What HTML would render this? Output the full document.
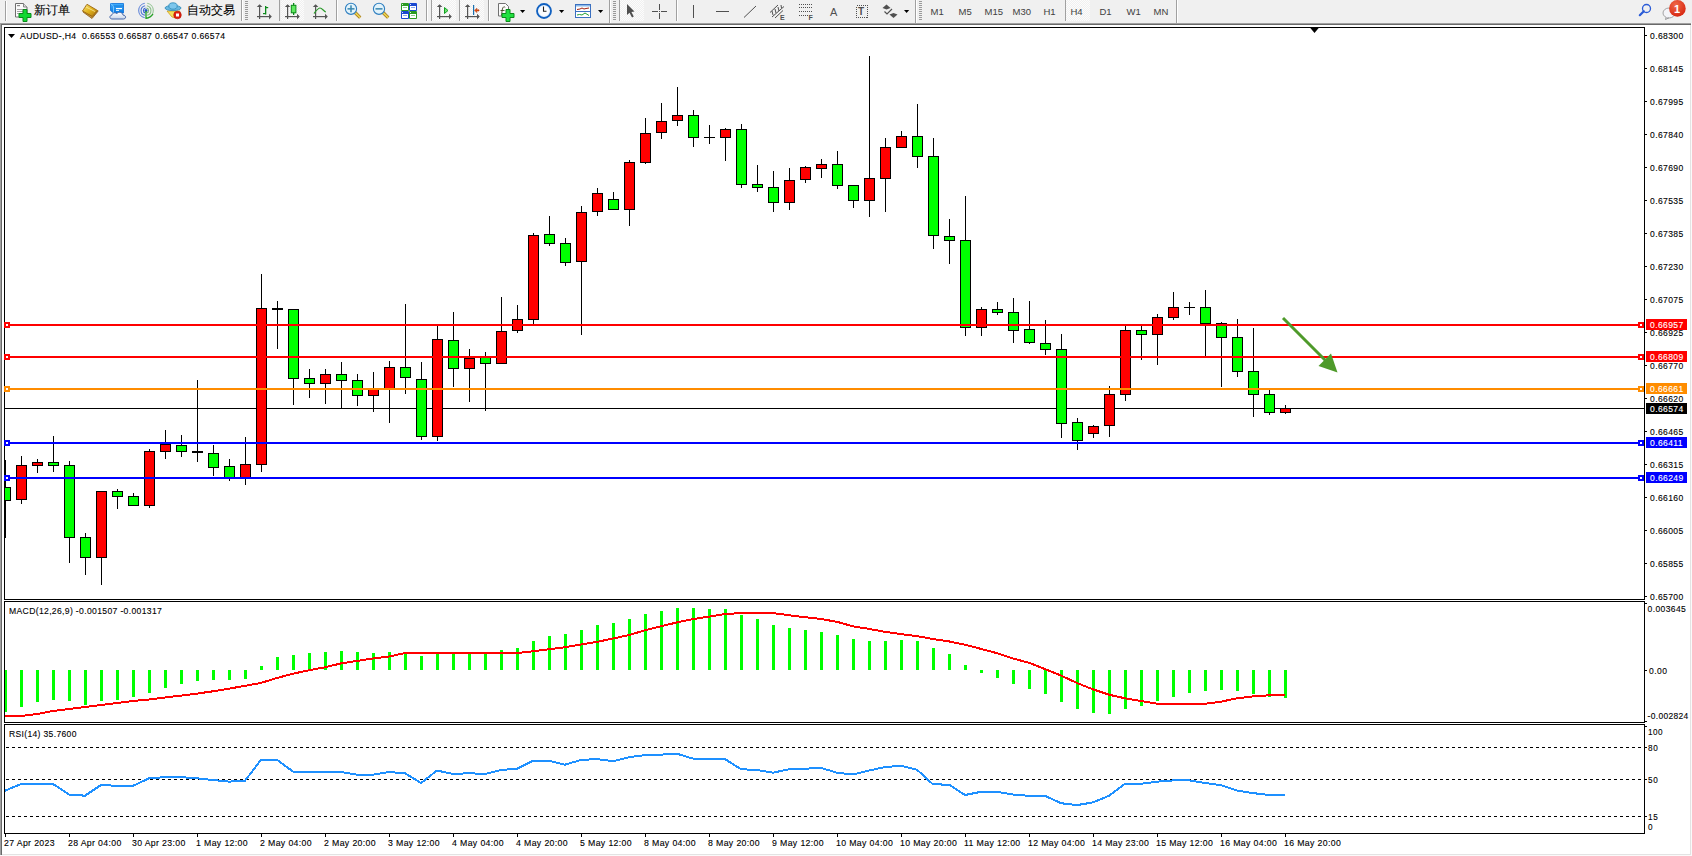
<!DOCTYPE html>
<html><head><meta charset="utf-8"><title>MT4</title>
<style>html,body{margin:0;padding:0;width:1692px;height:856px;overflow:hidden;background:#f0f0f0}
svg{display:block} text{font-family:"Liberation Sans",sans-serif}</style></head>
<body><svg width="1692" height="856" viewBox="0 0 1692 856" shape-rendering="crispEdges" text-rendering="optimizeLegibility">
<rect x="0" y="0" width="1692" height="856" fill="#f0f0f0"/>
<rect x="2" y="25" width="1688" height="829" fill="#ffffff"/>
<rect x="0" y="23" width="1691" height="1" fill="#a0a0a0"/>
<rect x="1" y="24" width="1690" height="1" fill="#696969"/>
<rect x="0" y="23" width="1" height="833" fill="#a0a0a0"/>
<rect x="1" y="24" width="1" height="831" fill="#696969"/>
<rect x="1690" y="25" width="1" height="830" fill="#e3e3e3"/>
<rect x="2" y="854" width="1689" height="1" fill="#e3e3e3"/>
<rect x="1691" y="23" width="1" height="833" fill="#fafafa"/>
<rect x="0" y="855" width="1692" height="1" fill="#fafafa"/>
<rect x="4" y="27" width="1641" height="1" fill="#000"/>
<rect x="4" y="599" width="1641" height="1" fill="#000"/>
<rect x="4" y="27" width="1" height="573" fill="#000"/>
<rect x="1644" y="27" width="1" height="573" fill="#000"/>
<rect x="4" y="601" width="1641" height="1" fill="#000"/>
<rect x="4" y="722" width="1641" height="1" fill="#000"/>
<rect x="4" y="601" width="1" height="122" fill="#000"/>
<rect x="1644" y="601" width="1" height="122" fill="#000"/>
<rect x="4" y="724" width="1641" height="1" fill="#000"/>
<rect x="4" y="833" width="1641" height="1" fill="#000"/>
<rect x="4" y="724" width="1" height="110" fill="#000"/>
<rect x="1644" y="724" width="1" height="110" fill="#000"/>
<defs><clipPath id="cm"><rect x="5" y="28" width="1639" height="571"/></clipPath><clipPath id="cmacd"><rect x="5" y="602" width="1639" height="120"/></clipPath><clipPath id="crsi"><rect x="5" y="725" width="1639" height="108"/></clipPath></defs>
<g clip-path="url(#cm)">
<rect x="5" y="408" width="1639" height="1" fill="#000000"/>
<rect x="5" y="460" width="1" height="78" fill="#000"/>
<rect x="0" y="487" width="11" height="14" fill="#000"/>
<rect x="1" y="488" width="9" height="12" fill="#00ff00"/>
<rect x="21" y="456" width="1" height="48" fill="#000"/>
<rect x="16" y="465" width="11" height="35" fill="#000"/>
<rect x="17" y="466" width="9" height="33" fill="#ff0000"/>
<rect x="37" y="459" width="1" height="14" fill="#000"/>
<rect x="32" y="462" width="11" height="4" fill="#000"/>
<rect x="33" y="463" width="9" height="2" fill="#ff0000"/>
<rect x="53" y="436" width="1" height="36" fill="#000"/>
<rect x="48" y="462" width="11" height="4" fill="#000"/>
<rect x="49" y="463" width="9" height="2" fill="#00ff00"/>
<rect x="69" y="461" width="1" height="102" fill="#000"/>
<rect x="64" y="465" width="11" height="73" fill="#000"/>
<rect x="65" y="466" width="9" height="71" fill="#00ff00"/>
<rect x="85" y="533" width="1" height="42" fill="#000"/>
<rect x="80" y="537" width="11" height="21" fill="#000"/>
<rect x="81" y="538" width="9" height="19" fill="#00ff00"/>
<rect x="101" y="491" width="1" height="94" fill="#000"/>
<rect x="96" y="491" width="11" height="67" fill="#000"/>
<rect x="97" y="492" width="9" height="65" fill="#ff0000"/>
<rect x="117" y="489" width="1" height="20" fill="#000"/>
<rect x="112" y="491" width="11" height="6" fill="#000"/>
<rect x="113" y="492" width="9" height="4" fill="#00ff00"/>
<rect x="133" y="493" width="1" height="13" fill="#000"/>
<rect x="128" y="496" width="11" height="10" fill="#000"/>
<rect x="129" y="497" width="9" height="8" fill="#00ff00"/>
<rect x="149" y="449" width="1" height="59" fill="#000"/>
<rect x="144" y="451" width="11" height="55" fill="#000"/>
<rect x="145" y="452" width="9" height="53" fill="#ff0000"/>
<rect x="165" y="430" width="1" height="29" fill="#000"/>
<rect x="160" y="444" width="11" height="8" fill="#000"/>
<rect x="161" y="445" width="9" height="6" fill="#ff0000"/>
<rect x="181" y="435" width="1" height="22" fill="#000"/>
<rect x="176" y="445" width="11" height="7" fill="#000"/>
<rect x="177" y="446" width="9" height="5" fill="#00ff00"/>
<rect x="197" y="380" width="1" height="82" fill="#000"/>
<rect x="192" y="451" width="11" height="2" fill="#000"/>
<rect x="213" y="445" width="1" height="31" fill="#000"/>
<rect x="208" y="453" width="11" height="15" fill="#000"/>
<rect x="209" y="454" width="9" height="13" fill="#00ff00"/>
<rect x="229" y="459" width="1" height="22" fill="#000"/>
<rect x="224" y="466" width="11" height="12" fill="#000"/>
<rect x="225" y="467" width="9" height="10" fill="#00ff00"/>
<rect x="245" y="437" width="1" height="48" fill="#000"/>
<rect x="240" y="464" width="11" height="14" fill="#000"/>
<rect x="241" y="465" width="9" height="12" fill="#ff0000"/>
<rect x="261" y="274" width="1" height="198" fill="#000"/>
<rect x="256" y="308" width="11" height="157" fill="#000"/>
<rect x="257" y="309" width="9" height="155" fill="#ff0000"/>
<rect x="277" y="301" width="1" height="48" fill="#000"/>
<rect x="272" y="308" width="11" height="2" fill="#000"/>
<rect x="293" y="309" width="1" height="96" fill="#000"/>
<rect x="288" y="309" width="11" height="70" fill="#000"/>
<rect x="289" y="310" width="9" height="68" fill="#00ff00"/>
<rect x="309" y="369" width="1" height="29" fill="#000"/>
<rect x="304" y="378" width="11" height="6" fill="#000"/>
<rect x="305" y="379" width="9" height="4" fill="#00ff00"/>
<rect x="325" y="369" width="1" height="35" fill="#000"/>
<rect x="320" y="374" width="11" height="10" fill="#000"/>
<rect x="321" y="375" width="9" height="8" fill="#ff0000"/>
<rect x="341" y="362" width="1" height="47" fill="#000"/>
<rect x="336" y="374" width="11" height="7" fill="#000"/>
<rect x="337" y="375" width="9" height="5" fill="#00ff00"/>
<rect x="357" y="374" width="1" height="32" fill="#000"/>
<rect x="352" y="380" width="11" height="16" fill="#000"/>
<rect x="353" y="381" width="9" height="14" fill="#00ff00"/>
<rect x="373" y="372" width="1" height="40" fill="#000"/>
<rect x="368" y="389" width="11" height="7" fill="#000"/>
<rect x="369" y="390" width="9" height="5" fill="#ff0000"/>
<rect x="389" y="361" width="1" height="62" fill="#000"/>
<rect x="384" y="367" width="11" height="22" fill="#000"/>
<rect x="385" y="368" width="9" height="20" fill="#ff0000"/>
<rect x="405" y="304" width="1" height="90" fill="#000"/>
<rect x="400" y="367" width="11" height="11" fill="#000"/>
<rect x="401" y="368" width="9" height="9" fill="#00ff00"/>
<rect x="421" y="362" width="1" height="78" fill="#000"/>
<rect x="416" y="379" width="11" height="58" fill="#000"/>
<rect x="417" y="380" width="9" height="56" fill="#00ff00"/>
<rect x="437" y="326" width="1" height="115" fill="#000"/>
<rect x="432" y="339" width="11" height="98" fill="#000"/>
<rect x="433" y="340" width="9" height="96" fill="#ff0000"/>
<rect x="453" y="312" width="1" height="75" fill="#000"/>
<rect x="448" y="340" width="11" height="29" fill="#000"/>
<rect x="449" y="341" width="9" height="27" fill="#00ff00"/>
<rect x="469" y="349" width="1" height="53" fill="#000"/>
<rect x="464" y="358" width="11" height="11" fill="#000"/>
<rect x="465" y="359" width="9" height="9" fill="#ff0000"/>
<rect x="485" y="352" width="1" height="59" fill="#000"/>
<rect x="480" y="357" width="11" height="7" fill="#000"/>
<rect x="481" y="358" width="9" height="5" fill="#00ff00"/>
<rect x="501" y="297" width="1" height="67" fill="#000"/>
<rect x="496" y="331" width="11" height="33" fill="#000"/>
<rect x="497" y="332" width="9" height="31" fill="#ff0000"/>
<rect x="517" y="305" width="1" height="28" fill="#000"/>
<rect x="512" y="319" width="11" height="12" fill="#000"/>
<rect x="513" y="320" width="9" height="10" fill="#ff0000"/>
<rect x="533" y="233" width="1" height="91" fill="#000"/>
<rect x="528" y="235" width="11" height="85" fill="#000"/>
<rect x="529" y="236" width="9" height="83" fill="#ff0000"/>
<rect x="549" y="216" width="1" height="30" fill="#000"/>
<rect x="544" y="234" width="11" height="10" fill="#000"/>
<rect x="545" y="235" width="9" height="8" fill="#00ff00"/>
<rect x="565" y="238" width="1" height="28" fill="#000"/>
<rect x="560" y="243" width="11" height="20" fill="#000"/>
<rect x="561" y="244" width="9" height="18" fill="#00ff00"/>
<rect x="581" y="206" width="1" height="129" fill="#000"/>
<rect x="576" y="212" width="11" height="50" fill="#000"/>
<rect x="577" y="213" width="9" height="48" fill="#ff0000"/>
<rect x="597" y="188" width="1" height="28" fill="#000"/>
<rect x="592" y="193" width="11" height="19" fill="#000"/>
<rect x="593" y="194" width="9" height="17" fill="#ff0000"/>
<rect x="613" y="192" width="1" height="17" fill="#000"/>
<rect x="608" y="199" width="11" height="11" fill="#000"/>
<rect x="609" y="200" width="9" height="9" fill="#00ff00"/>
<rect x="629" y="160" width="1" height="66" fill="#000"/>
<rect x="624" y="162" width="11" height="48" fill="#000"/>
<rect x="625" y="163" width="9" height="46" fill="#ff0000"/>
<rect x="645" y="118" width="1" height="46" fill="#000"/>
<rect x="640" y="133" width="11" height="30" fill="#000"/>
<rect x="641" y="134" width="9" height="28" fill="#ff0000"/>
<rect x="661" y="103" width="1" height="36" fill="#000"/>
<rect x="656" y="121" width="11" height="12" fill="#000"/>
<rect x="657" y="122" width="9" height="10" fill="#ff0000"/>
<rect x="677" y="87" width="1" height="39" fill="#000"/>
<rect x="672" y="115" width="11" height="6" fill="#000"/>
<rect x="673" y="116" width="9" height="4" fill="#ff0000"/>
<rect x="693" y="110" width="1" height="37" fill="#000"/>
<rect x="688" y="115" width="11" height="23" fill="#000"/>
<rect x="689" y="116" width="9" height="21" fill="#00ff00"/>
<rect x="709" y="125" width="1" height="19" fill="#000"/>
<rect x="704" y="137" width="11" height="1" fill="#000"/>
<rect x="725" y="128" width="1" height="33" fill="#000"/>
<rect x="720" y="129" width="11" height="9" fill="#000"/>
<rect x="721" y="130" width="9" height="7" fill="#ff0000"/>
<rect x="741" y="124" width="1" height="64" fill="#000"/>
<rect x="736" y="129" width="11" height="56" fill="#000"/>
<rect x="737" y="130" width="9" height="54" fill="#00ff00"/>
<rect x="757" y="165" width="1" height="27" fill="#000"/>
<rect x="752" y="184" width="11" height="4" fill="#000"/>
<rect x="753" y="185" width="9" height="2" fill="#00ff00"/>
<rect x="773" y="171" width="1" height="41" fill="#000"/>
<rect x="768" y="187" width="11" height="16" fill="#000"/>
<rect x="769" y="188" width="9" height="14" fill="#00ff00"/>
<rect x="789" y="168" width="1" height="42" fill="#000"/>
<rect x="784" y="180" width="11" height="23" fill="#000"/>
<rect x="785" y="181" width="9" height="21" fill="#ff0000"/>
<rect x="805" y="166" width="1" height="17" fill="#000"/>
<rect x="800" y="167" width="11" height="13" fill="#000"/>
<rect x="801" y="168" width="9" height="11" fill="#ff0000"/>
<rect x="821" y="159" width="1" height="19" fill="#000"/>
<rect x="816" y="164" width="11" height="5" fill="#000"/>
<rect x="817" y="165" width="9" height="3" fill="#ff0000"/>
<rect x="837" y="151" width="1" height="38" fill="#000"/>
<rect x="832" y="164" width="11" height="22" fill="#000"/>
<rect x="833" y="165" width="9" height="20" fill="#00ff00"/>
<rect x="853" y="185" width="1" height="23" fill="#000"/>
<rect x="848" y="185" width="11" height="16" fill="#000"/>
<rect x="849" y="186" width="9" height="14" fill="#00ff00"/>
<rect x="869" y="56" width="1" height="161" fill="#000"/>
<rect x="864" y="178" width="11" height="23" fill="#000"/>
<rect x="865" y="179" width="9" height="21" fill="#ff0000"/>
<rect x="885" y="138" width="1" height="74" fill="#000"/>
<rect x="880" y="147" width="11" height="32" fill="#000"/>
<rect x="881" y="148" width="9" height="30" fill="#ff0000"/>
<rect x="901" y="131" width="1" height="16" fill="#000"/>
<rect x="896" y="136" width="11" height="12" fill="#000"/>
<rect x="897" y="137" width="9" height="10" fill="#ff0000"/>
<rect x="917" y="104" width="1" height="64" fill="#000"/>
<rect x="912" y="136" width="11" height="21" fill="#000"/>
<rect x="913" y="137" width="9" height="19" fill="#00ff00"/>
<rect x="933" y="138" width="1" height="111" fill="#000"/>
<rect x="928" y="156" width="11" height="80" fill="#000"/>
<rect x="929" y="157" width="9" height="78" fill="#00ff00"/>
<rect x="949" y="219" width="1" height="45" fill="#000"/>
<rect x="944" y="236" width="11" height="5" fill="#000"/>
<rect x="945" y="237" width="9" height="3" fill="#00ff00"/>
<rect x="965" y="196" width="1" height="140" fill="#000"/>
<rect x="960" y="240" width="11" height="88" fill="#000"/>
<rect x="961" y="241" width="9" height="86" fill="#00ff00"/>
<rect x="981" y="307" width="1" height="29" fill="#000"/>
<rect x="976" y="309" width="11" height="19" fill="#000"/>
<rect x="977" y="310" width="9" height="17" fill="#ff0000"/>
<rect x="997" y="302" width="1" height="13" fill="#000"/>
<rect x="992" y="309" width="11" height="4" fill="#000"/>
<rect x="993" y="310" width="9" height="2" fill="#00ff00"/>
<rect x="1013" y="298" width="1" height="45" fill="#000"/>
<rect x="1008" y="312" width="11" height="19" fill="#000"/>
<rect x="1009" y="313" width="9" height="17" fill="#00ff00"/>
<rect x="1029" y="301" width="1" height="43" fill="#000"/>
<rect x="1024" y="329" width="11" height="14" fill="#000"/>
<rect x="1025" y="330" width="9" height="12" fill="#00ff00"/>
<rect x="1045" y="320" width="1" height="35" fill="#000"/>
<rect x="1040" y="343" width="11" height="7" fill="#000"/>
<rect x="1041" y="344" width="9" height="5" fill="#00ff00"/>
<rect x="1061" y="334" width="1" height="104" fill="#000"/>
<rect x="1056" y="349" width="11" height="75" fill="#000"/>
<rect x="1057" y="350" width="9" height="73" fill="#00ff00"/>
<rect x="1077" y="418" width="1" height="32" fill="#000"/>
<rect x="1072" y="422" width="11" height="19" fill="#000"/>
<rect x="1073" y="423" width="9" height="17" fill="#00ff00"/>
<rect x="1093" y="425" width="1" height="13" fill="#000"/>
<rect x="1088" y="426" width="11" height="8" fill="#000"/>
<rect x="1089" y="427" width="9" height="6" fill="#ff0000"/>
<rect x="1109" y="386" width="1" height="51" fill="#000"/>
<rect x="1104" y="394" width="11" height="32" fill="#000"/>
<rect x="1105" y="395" width="9" height="30" fill="#ff0000"/>
<rect x="1125" y="326" width="1" height="75" fill="#000"/>
<rect x="1120" y="330" width="11" height="65" fill="#000"/>
<rect x="1121" y="331" width="9" height="63" fill="#ff0000"/>
<rect x="1141" y="326" width="1" height="34" fill="#000"/>
<rect x="1136" y="330" width="11" height="5" fill="#000"/>
<rect x="1137" y="331" width="9" height="3" fill="#00ff00"/>
<rect x="1157" y="314" width="1" height="51" fill="#000"/>
<rect x="1152" y="317" width="11" height="18" fill="#000"/>
<rect x="1153" y="318" width="9" height="16" fill="#ff0000"/>
<rect x="1173" y="292" width="1" height="28" fill="#000"/>
<rect x="1168" y="307" width="11" height="11" fill="#000"/>
<rect x="1169" y="308" width="9" height="9" fill="#ff0000"/>
<rect x="1189" y="302" width="1" height="13" fill="#000"/>
<rect x="1184" y="307" width="11" height="1" fill="#000"/>
<rect x="1205" y="290" width="1" height="66" fill="#000"/>
<rect x="1200" y="307" width="11" height="17" fill="#000"/>
<rect x="1201" y="308" width="9" height="15" fill="#00ff00"/>
<rect x="1221" y="322" width="1" height="65" fill="#000"/>
<rect x="1216" y="323" width="11" height="15" fill="#000"/>
<rect x="1217" y="324" width="9" height="13" fill="#00ff00"/>
<rect x="1237" y="319" width="1" height="58" fill="#000"/>
<rect x="1232" y="337" width="11" height="35" fill="#000"/>
<rect x="1233" y="338" width="9" height="33" fill="#00ff00"/>
<rect x="1253" y="328" width="1" height="89" fill="#000"/>
<rect x="1248" y="371" width="11" height="24" fill="#000"/>
<rect x="1249" y="372" width="9" height="22" fill="#00ff00"/>
<rect x="1269" y="390" width="1" height="25" fill="#000"/>
<rect x="1264" y="394" width="11" height="19" fill="#000"/>
<rect x="1265" y="395" width="9" height="17" fill="#00ff00"/>
<rect x="1285" y="405" width="1" height="9" fill="#000"/>
<rect x="1280" y="408" width="11" height="5" fill="#000"/>
<rect x="1281" y="409" width="9" height="3" fill="#ff0000"/>
<rect x="5" y="324" width="1639" height="2" fill="#ff0000"/>
<rect x="5" y="356" width="1639" height="2" fill="#ff0000"/>
<rect x="5" y="388" width="1639" height="2" fill="#ff8c00"/>
<rect x="5" y="442" width="1639" height="2" fill="#0000ff"/>
<rect x="5" y="477" width="1639" height="2" fill="#0000ff"/>
<line x1="1283" y1="318" x2="1326" y2="361" stroke="#4e9a2a" stroke-width="3" shape-rendering="geometricPrecision"/>
<polygon points="1337.5,372.5 1318.5,366 1331,353.5" fill="#4e9a2a" shape-rendering="geometricPrecision"/>
</g>
<rect x="4" y="322" width="6" height="6" fill="#ff0000"/>
<rect x="6" y="324" width="2" height="2" fill="#ffffff"/>
<rect x="1638" y="322" width="6" height="6" fill="#ff0000"/>
<rect x="1640" y="324" width="2" height="2" fill="#ffffff"/>
<rect x="4" y="354" width="6" height="6" fill="#ff0000"/>
<rect x="6" y="356" width="2" height="2" fill="#ffffff"/>
<rect x="1638" y="354" width="6" height="6" fill="#ff0000"/>
<rect x="1640" y="356" width="2" height="2" fill="#ffffff"/>
<rect x="4" y="386" width="6" height="6" fill="#ff8c00"/>
<rect x="6" y="388" width="2" height="2" fill="#ffffff"/>
<rect x="1638" y="386" width="6" height="6" fill="#ff8c00"/>
<rect x="1640" y="388" width="2" height="2" fill="#ffffff"/>
<rect x="4" y="440" width="6" height="6" fill="#0000ff"/>
<rect x="6" y="442" width="2" height="2" fill="#ffffff"/>
<rect x="1638" y="440" width="6" height="6" fill="#0000ff"/>
<rect x="1640" y="442" width="2" height="2" fill="#ffffff"/>
<rect x="4" y="475" width="6" height="6" fill="#0000ff"/>
<rect x="6" y="477" width="2" height="2" fill="#ffffff"/>
<rect x="1638" y="475" width="6" height="6" fill="#0000ff"/>
<rect x="1640" y="477" width="2" height="2" fill="#ffffff"/>
<polygon points="1309.5,27 1319.5,27 1314.5,33" fill="#000" shape-rendering="geometricPrecision"/>
<rect x="1645" y="35" width="2" height="1" fill="#000"/>
<text transform="translate(1650,39) scale(0.8913,1)" font-size="9.6" letter-spacing="0.435" fill="#000" stroke="#000" stroke-width="0.12">0.68300</text>
<rect x="1645" y="68" width="2" height="1" fill="#000"/>
<text transform="translate(1650,72) scale(0.8913,1)" font-size="9.6" letter-spacing="0.435" fill="#000" stroke="#000" stroke-width="0.12">0.68145</text>
<rect x="1645" y="101" width="2" height="1" fill="#000"/>
<text transform="translate(1650,105) scale(0.8913,1)" font-size="9.6" letter-spacing="0.435" fill="#000" stroke="#000" stroke-width="0.12">0.67995</text>
<rect x="1645" y="134" width="2" height="1" fill="#000"/>
<text transform="translate(1650,138) scale(0.8913,1)" font-size="9.6" letter-spacing="0.435" fill="#000" stroke="#000" stroke-width="0.12">0.67840</text>
<rect x="1645" y="167" width="2" height="1" fill="#000"/>
<text transform="translate(1650,171) scale(0.8913,1)" font-size="9.6" letter-spacing="0.435" fill="#000" stroke="#000" stroke-width="0.12">0.67690</text>
<rect x="1645" y="200" width="2" height="1" fill="#000"/>
<text transform="translate(1650,204) scale(0.8913,1)" font-size="9.6" letter-spacing="0.435" fill="#000" stroke="#000" stroke-width="0.12">0.67535</text>
<rect x="1645" y="233" width="2" height="1" fill="#000"/>
<text transform="translate(1650,237) scale(0.8913,1)" font-size="9.6" letter-spacing="0.435" fill="#000" stroke="#000" stroke-width="0.12">0.67385</text>
<rect x="1645" y="266" width="2" height="1" fill="#000"/>
<text transform="translate(1650,270) scale(0.8913,1)" font-size="9.6" letter-spacing="0.435" fill="#000" stroke="#000" stroke-width="0.12">0.67230</text>
<rect x="1645" y="299" width="2" height="1" fill="#000"/>
<text transform="translate(1650,303) scale(0.8913,1)" font-size="9.6" letter-spacing="0.435" fill="#000" stroke="#000" stroke-width="0.12">0.67075</text>
<rect x="1645" y="332" width="2" height="1" fill="#000"/>
<text transform="translate(1650,336) scale(0.8913,1)" font-size="9.6" letter-spacing="0.435" fill="#000" stroke="#000" stroke-width="0.12">0.66925</text>
<rect x="1645" y="365" width="2" height="1" fill="#000"/>
<text transform="translate(1650,369) scale(0.8913,1)" font-size="9.6" letter-spacing="0.435" fill="#000" stroke="#000" stroke-width="0.12">0.66770</text>
<rect x="1645" y="398" width="2" height="1" fill="#000"/>
<text transform="translate(1650,402) scale(0.8913,1)" font-size="9.6" letter-spacing="0.435" fill="#000" stroke="#000" stroke-width="0.12">0.66620</text>
<rect x="1645" y="431" width="2" height="1" fill="#000"/>
<text transform="translate(1650,435) scale(0.8913,1)" font-size="9.6" letter-spacing="0.435" fill="#000" stroke="#000" stroke-width="0.12">0.66465</text>
<rect x="1645" y="464" width="2" height="1" fill="#000"/>
<text transform="translate(1650,468) scale(0.8913,1)" font-size="9.6" letter-spacing="0.435" fill="#000" stroke="#000" stroke-width="0.12">0.66315</text>
<rect x="1645" y="497" width="2" height="1" fill="#000"/>
<text transform="translate(1650,501) scale(0.8913,1)" font-size="9.6" letter-spacing="0.435" fill="#000" stroke="#000" stroke-width="0.12">0.66160</text>
<rect x="1645" y="530" width="2" height="1" fill="#000"/>
<text transform="translate(1650,534) scale(0.8913,1)" font-size="9.6" letter-spacing="0.435" fill="#000" stroke="#000" stroke-width="0.12">0.66005</text>
<rect x="1645" y="563" width="2" height="1" fill="#000"/>
<text transform="translate(1650,567) scale(0.8913,1)" font-size="9.6" letter-spacing="0.435" fill="#000" stroke="#000" stroke-width="0.12">0.65855</text>
<rect x="1645" y="596" width="2" height="1" fill="#000"/>
<text transform="translate(1650,600) scale(0.8913,1)" font-size="9.6" letter-spacing="0.435" fill="#000" stroke="#000" stroke-width="0.12">0.65700</text>
<rect x="1646" y="319" width="41" height="11" fill="#ff0000"/>
<text transform="translate(1650,328) scale(0.8913,1)" font-size="9.6" letter-spacing="0.435" fill="#fff" stroke="#fff" stroke-width="0.12">0.66957</text>
<rect x="1646" y="351" width="41" height="11" fill="#ff0000"/>
<text transform="translate(1650,360) scale(0.8913,1)" font-size="9.6" letter-spacing="0.435" fill="#fff" stroke="#fff" stroke-width="0.12">0.66809</text>
<rect x="1646" y="383" width="41" height="11" fill="#ff8c00"/>
<text transform="translate(1650,392) scale(0.8913,1)" font-size="9.6" letter-spacing="0.435" fill="#fff" stroke="#fff" stroke-width="0.12">0.66661</text>
<rect x="1646" y="403" width="41" height="11" fill="#000000"/>
<text transform="translate(1650,412) scale(0.8913,1)" font-size="9.6" letter-spacing="0.435" fill="#fff" stroke="#fff" stroke-width="0.12">0.66574</text>
<rect x="1646" y="437" width="41" height="11" fill="#0000ff"/>
<text transform="translate(1650,446) scale(0.8913,1)" font-size="9.6" letter-spacing="0.426" fill="#fff" stroke="#fff" stroke-width="0.12">0.66411</text>
<rect x="1646" y="472" width="41" height="11" fill="#0000ff"/>
<text transform="translate(1650,481) scale(0.8913,1)" font-size="9.6" letter-spacing="0.435" fill="#fff" stroke="#fff" stroke-width="0.12">0.66249</text>
<polygon points="8,34 15,34 11.5,38" fill="#000" shape-rendering="geometricPrecision"/>
<text transform="translate(20,39) scale(0.9058,1)" font-size="9.6" letter-spacing="0.378" fill="#000" stroke="#000" stroke-width="0.12">AUDUSD-,H4&#160;&#160;0.66553 0.66587 0.66547 0.66574</text>
<g clip-path="url(#cmacd)">
<rect x="4" y="670" width="3" height="42" fill="#00ff00"/>
<rect x="20" y="670" width="3" height="37" fill="#00ff00"/>
<rect x="36" y="670" width="3" height="32" fill="#00ff00"/>
<rect x="52" y="670" width="3" height="30" fill="#00ff00"/>
<rect x="68" y="670" width="3" height="31" fill="#00ff00"/>
<rect x="84" y="670" width="3" height="35" fill="#00ff00"/>
<rect x="100" y="670" width="3" height="31" fill="#00ff00"/>
<rect x="116" y="670" width="3" height="30" fill="#00ff00"/>
<rect x="132" y="670" width="3" height="27" fill="#00ff00"/>
<rect x="148" y="670" width="3" height="23" fill="#00ff00"/>
<rect x="164" y="670" width="3" height="18" fill="#00ff00"/>
<rect x="180" y="670" width="3" height="14" fill="#00ff00"/>
<rect x="196" y="670" width="3" height="11" fill="#00ff00"/>
<rect x="212" y="670" width="3" height="10" fill="#00ff00"/>
<rect x="228" y="670" width="3" height="10" fill="#00ff00"/>
<rect x="244" y="670" width="3" height="9" fill="#00ff00"/>
<rect x="260" y="666" width="3" height="4" fill="#00ff00"/>
<rect x="276" y="657" width="3" height="13" fill="#00ff00"/>
<rect x="292" y="655" width="3" height="15" fill="#00ff00"/>
<rect x="308" y="653" width="3" height="17" fill="#00ff00"/>
<rect x="324" y="652" width="3" height="18" fill="#00ff00"/>
<rect x="340" y="651" width="3" height="19" fill="#00ff00"/>
<rect x="356" y="652" width="3" height="18" fill="#00ff00"/>
<rect x="372" y="653" width="3" height="17" fill="#00ff00"/>
<rect x="388" y="652" width="3" height="18" fill="#00ff00"/>
<rect x="404" y="652" width="3" height="18" fill="#00ff00"/>
<rect x="420" y="656" width="3" height="14" fill="#00ff00"/>
<rect x="436" y="653" width="3" height="17" fill="#00ff00"/>
<rect x="452" y="653" width="3" height="17" fill="#00ff00"/>
<rect x="468" y="653" width="3" height="17" fill="#00ff00"/>
<rect x="484" y="653" width="3" height="17" fill="#00ff00"/>
<rect x="500" y="650" width="3" height="20" fill="#00ff00"/>
<rect x="516" y="648" width="3" height="22" fill="#00ff00"/>
<rect x="532" y="641" width="3" height="29" fill="#00ff00"/>
<rect x="548" y="636" width="3" height="34" fill="#00ff00"/>
<rect x="564" y="634" width="3" height="36" fill="#00ff00"/>
<rect x="580" y="630" width="3" height="40" fill="#00ff00"/>
<rect x="596" y="625" width="3" height="45" fill="#00ff00"/>
<rect x="612" y="623" width="3" height="47" fill="#00ff00"/>
<rect x="628" y="619" width="3" height="51" fill="#00ff00"/>
<rect x="644" y="614" width="3" height="56" fill="#00ff00"/>
<rect x="660" y="611" width="3" height="59" fill="#00ff00"/>
<rect x="676" y="608" width="3" height="62" fill="#00ff00"/>
<rect x="692" y="608" width="3" height="62" fill="#00ff00"/>
<rect x="708" y="609" width="3" height="61" fill="#00ff00"/>
<rect x="724" y="609" width="3" height="61" fill="#00ff00"/>
<rect x="740" y="615" width="3" height="55" fill="#00ff00"/>
<rect x="756" y="619" width="3" height="51" fill="#00ff00"/>
<rect x="772" y="625" width="3" height="45" fill="#00ff00"/>
<rect x="788" y="628" width="3" height="42" fill="#00ff00"/>
<rect x="804" y="630" width="3" height="40" fill="#00ff00"/>
<rect x="820" y="632" width="3" height="38" fill="#00ff00"/>
<rect x="836" y="635" width="3" height="35" fill="#00ff00"/>
<rect x="852" y="639" width="3" height="31" fill="#00ff00"/>
<rect x="868" y="641" width="3" height="29" fill="#00ff00"/>
<rect x="884" y="641" width="3" height="29" fill="#00ff00"/>
<rect x="900" y="640" width="3" height="30" fill="#00ff00"/>
<rect x="916" y="641" width="3" height="29" fill="#00ff00"/>
<rect x="932" y="648" width="3" height="22" fill="#00ff00"/>
<rect x="948" y="654" width="3" height="16" fill="#00ff00"/>
<rect x="964" y="665" width="3" height="5" fill="#00ff00"/>
<rect x="980" y="670" width="3" height="3" fill="#00ff00"/>
<rect x="996" y="670" width="3" height="8" fill="#00ff00"/>
<rect x="1012" y="670" width="3" height="14" fill="#00ff00"/>
<rect x="1028" y="670" width="3" height="19" fill="#00ff00"/>
<rect x="1044" y="670" width="3" height="24" fill="#00ff00"/>
<rect x="1060" y="670" width="3" height="32" fill="#00ff00"/>
<rect x="1076" y="670" width="3" height="39" fill="#00ff00"/>
<rect x="1092" y="670" width="3" height="43" fill="#00ff00"/>
<rect x="1108" y="670" width="3" height="44" fill="#00ff00"/>
<rect x="1124" y="670" width="3" height="39" fill="#00ff00"/>
<rect x="1140" y="670" width="3" height="36" fill="#00ff00"/>
<rect x="1156" y="670" width="3" height="31" fill="#00ff00"/>
<rect x="1172" y="670" width="3" height="27" fill="#00ff00"/>
<rect x="1188" y="670" width="3" height="23" fill="#00ff00"/>
<rect x="1204" y="670" width="3" height="21" fill="#00ff00"/>
<rect x="1220" y="670" width="3" height="20" fill="#00ff00"/>
<rect x="1236" y="670" width="3" height="21" fill="#00ff00"/>
<rect x="1252" y="670" width="3" height="24" fill="#00ff00"/>
<rect x="1268" y="670" width="3" height="27" fill="#00ff00"/>
<rect x="1284" y="670" width="3" height="28" fill="#00ff00"/>
<polyline points="5,716 21,716 37,714 53,711 69,709 85,707 101,705 117,703 133,701 149,699.5 165,697.5 181,695.6 197,693.6 213,691.3 229,688.7 245,685.8 261,682.9 277,678 293,673.7 309,670.2 325,667.3 341,663.4 357,660.9 373,658.5 389,656.6 405,653 421,653 437,653 453,653 469,653 485,653 501,653 517,653 533,651.3 549,649.3 565,647.2 581,644.5 597,641.9 613,638.5 629,635.1 645,630.2 661,626.3 677,622.4 693,619.1 709,616.6 725,614 741,613.1 757,613.1 773,613.1 789,615.2 805,617.2 821,619 837,621.8 853,626.3 869,628.9 885,631.8 901,634.1 917,636.1 933,639 949,641.4 965,644.7 981,648.9 997,653.2 1013,658.5 1029,662.8 1045,669.1 1061,675.5 1077,683 1093,689.4 1109,694.7 1125,698.3 1141,701.1 1157,703.6 1173,703.8 1189,703.8 1205,703.8 1221,701.7 1237,698.3 1253,696.4 1269,695.3 1285,695.1" fill="none" stroke="#ff0000" stroke-width="2"/>
</g>
<text transform="translate(9,614) scale(0.8980,1)" font-size="9.6" letter-spacing="0.373" fill="#000" stroke="#000" stroke-width="0.12">MACD(12,26,9) -0.001507 -0.001317</text>
<rect x="1645" y="603" width="2" height="1" fill="#000"/>
<rect x="1645" y="670" width="2" height="1" fill="#000"/>
<rect x="1645" y="721" width="2" height="1" fill="#000"/>
<text transform="translate(1647.5,612) scale(0.8913,1)" font-size="9.6" letter-spacing="0.431" fill="#000" stroke="#000" stroke-width="0.12">0.003645</text>
<text transform="translate(1649,674) scale(0.8913,1)" font-size="9.6" letter-spacing="0.469" fill="#000" stroke="#000" stroke-width="0.12">0.00</text>
<text transform="translate(1647.5,719) scale(0.8787,1)" font-size="9.6" letter-spacing="0.407" fill="#000" stroke="#000" stroke-width="0.12">-0.002824</text>
<g clip-path="url(#crsi)">
<line x1="5" y1="747.5" x2="1644" y2="747.5" stroke="#000" stroke-width="1" stroke-dasharray="3,3" stroke-dashoffset="-1"/>
<line x1="5" y1="779.5" x2="1644" y2="779.5" stroke="#000" stroke-width="1" stroke-dasharray="3,3" stroke-dashoffset="-1"/>
<line x1="5" y1="816.5" x2="1644" y2="816.5" stroke="#000" stroke-width="1" stroke-dasharray="3,3" stroke-dashoffset="-1"/>
<polyline points="5,790.7 21,784 37,784 53,784 69,794.5 85,795.7 101,785 117,785.8 133,785.8 149,778.3 165,777.1 181,777.1 197,778.3 213,780 229,781.6 245,780.8 261,759.7 277,759.7 293,771.6 309,771.6 325,771.6 341,772.1 357,774.6 373,774.6 389,772.1 405,773.2 421,783 437,770.5 453,774 469,773.2 485,774 501,770 517,768.7 533,760.7 549,760.7 565,764.7 581,759.9 597,759.1 613,761.2 629,757.2 645,755.1 661,754.6 677,753.8 693,758.6 709,759.1 725,759.1 741,769.2 757,770 773,772.7 789,769.2 805,768.7 821,767.9 837,772.7 853,774.5 869,770.5 885,767.1 901,765.7 917,769.7 933,784.4 949,784.6 965,795 981,791.8 997,791.8 1013,794.5 1029,795.8 1045,795.8 1061,803.2 1077,805.1 1093,802.4 1109,795.8 1125,783.8 1141,783.8 1157,781.7 1173,780.4 1189,780.4 1205,783 1221,785.2 1237,790.5 1253,793.1 1269,795 1285,795" fill="none" stroke="#1e90ff" stroke-width="2"/>
</g>
<text transform="translate(9,737) scale(0.8913,1)" font-size="9.6" letter-spacing="0.379" fill="#000" stroke="#000" stroke-width="0.12">RSI(14) 35.7600</text>
<rect x="1645" y="726" width="2" height="1" fill="#000"/>
<rect x="1645" y="747" width="2" height="1" fill="#000"/>
<rect x="1645" y="779" width="2" height="1" fill="#000"/>
<rect x="1645" y="816" width="2" height="1" fill="#000"/>
<text transform="translate(1648,735) scale(0.8525,1)" font-size="9.6" letter-spacing="0.603" fill="#000" stroke="#000" stroke-width="0.12">100</text>
<text transform="translate(1648,751) scale(0.8525,1)" font-size="9.6" letter-spacing="0.804" fill="#000" stroke="#000" stroke-width="0.12">80</text>
<text transform="translate(1648,783) scale(0.8525,1)" font-size="9.6" letter-spacing="0.804" fill="#000" stroke="#000" stroke-width="0.12">50</text>
<text transform="translate(1648,820) scale(0.8525,1)" font-size="9.6" letter-spacing="0.804" fill="#000" stroke="#000" stroke-width="0.12">15</text>
<text transform="translate(1648,830) scale(0.8525,1)" font-size="9.6" letter-spacing="0.402" fill="#000" stroke="#000" stroke-width="0.12">0</text>
<rect x="5" y="834" width="1" height="3" fill="#000"/>
<text transform="translate(4,846) scale(0.9106,1)" font-size="9.6" letter-spacing="0.390" fill="#000" stroke="#000" stroke-width="0.12">27 Apr 2023</text>
<rect x="69" y="834" width="1" height="3" fill="#000"/>
<text transform="translate(68,846) scale(0.9106,1)" font-size="9.6" letter-spacing="0.373" fill="#000" stroke="#000" stroke-width="0.12">28 Apr 04:00</text>
<rect x="133" y="834" width="1" height="3" fill="#000"/>
<text transform="translate(132,846) scale(0.9106,1)" font-size="9.6" letter-spacing="0.373" fill="#000" stroke="#000" stroke-width="0.12">30 Apr 23:00</text>
<rect x="197" y="834" width="1" height="3" fill="#000"/>
<text transform="translate(196,846) scale(0.9106,1)" font-size="9.6" letter-spacing="0.398" fill="#000" stroke="#000" stroke-width="0.12">1 May 12:00</text>
<rect x="261" y="834" width="1" height="3" fill="#000"/>
<text transform="translate(260,846) scale(0.9106,1)" font-size="9.6" letter-spacing="0.398" fill="#000" stroke="#000" stroke-width="0.12">2 May 04:00</text>
<rect x="325" y="834" width="1" height="3" fill="#000"/>
<text transform="translate(324,846) scale(0.9106,1)" font-size="9.6" letter-spacing="0.398" fill="#000" stroke="#000" stroke-width="0.12">2 May 20:00</text>
<rect x="389" y="834" width="1" height="3" fill="#000"/>
<text transform="translate(388,846) scale(0.9106,1)" font-size="9.6" letter-spacing="0.398" fill="#000" stroke="#000" stroke-width="0.12">3 May 12:00</text>
<rect x="453" y="834" width="1" height="3" fill="#000"/>
<text transform="translate(452,846) scale(0.9106,1)" font-size="9.6" letter-spacing="0.398" fill="#000" stroke="#000" stroke-width="0.12">4 May 04:00</text>
<rect x="517" y="834" width="1" height="3" fill="#000"/>
<text transform="translate(516,846) scale(0.9106,1)" font-size="9.6" letter-spacing="0.398" fill="#000" stroke="#000" stroke-width="0.12">4 May 20:00</text>
<rect x="581" y="834" width="1" height="3" fill="#000"/>
<text transform="translate(580,846) scale(0.9106,1)" font-size="9.6" letter-spacing="0.398" fill="#000" stroke="#000" stroke-width="0.12">5 May 12:00</text>
<rect x="645" y="834" width="1" height="3" fill="#000"/>
<text transform="translate(644,846) scale(0.9106,1)" font-size="9.6" letter-spacing="0.398" fill="#000" stroke="#000" stroke-width="0.12">8 May 04:00</text>
<rect x="709" y="834" width="1" height="3" fill="#000"/>
<text transform="translate(708,846) scale(0.9106,1)" font-size="9.6" letter-spacing="0.398" fill="#000" stroke="#000" stroke-width="0.12">8 May 20:00</text>
<rect x="773" y="834" width="1" height="3" fill="#000"/>
<text transform="translate(772,846) scale(0.9106,1)" font-size="9.6" letter-spacing="0.398" fill="#000" stroke="#000" stroke-width="0.12">9 May 12:00</text>
<rect x="837" y="834" width="1" height="3" fill="#000"/>
<text transform="translate(836,846) scale(0.9106,1)" font-size="9.6" letter-spacing="0.398" fill="#000" stroke="#000" stroke-width="0.12">10 May 04:00</text>
<rect x="901" y="834" width="1" height="3" fill="#000"/>
<text transform="translate(900,846) scale(0.9106,1)" font-size="9.6" letter-spacing="0.398" fill="#000" stroke="#000" stroke-width="0.12">10 May 20:00</text>
<rect x="965" y="834" width="1" height="3" fill="#000"/>
<text transform="translate(964,846) scale(0.9106,1)" font-size="9.6" letter-spacing="0.393" fill="#000" stroke="#000" stroke-width="0.12">11 May 12:00</text>
<rect x="1029" y="834" width="1" height="3" fill="#000"/>
<text transform="translate(1028,846) scale(0.9106,1)" font-size="9.6" letter-spacing="0.398" fill="#000" stroke="#000" stroke-width="0.12">12 May 04:00</text>
<rect x="1093" y="834" width="1" height="3" fill="#000"/>
<text transform="translate(1092,846) scale(0.9106,1)" font-size="9.6" letter-spacing="0.398" fill="#000" stroke="#000" stroke-width="0.12">14 May 23:00</text>
<rect x="1157" y="834" width="1" height="3" fill="#000"/>
<text transform="translate(1156,846) scale(0.9106,1)" font-size="9.6" letter-spacing="0.398" fill="#000" stroke="#000" stroke-width="0.12">15 May 12:00</text>
<rect x="1221" y="834" width="1" height="3" fill="#000"/>
<text transform="translate(1220,846) scale(0.9106,1)" font-size="9.6" letter-spacing="0.398" fill="#000" stroke="#000" stroke-width="0.12">16 May 04:00</text>
<rect x="1285" y="834" width="1" height="3" fill="#000"/>
<text transform="translate(1284,846) scale(0.9106,1)" font-size="9.6" letter-spacing="0.398" fill="#000" stroke="#000" stroke-width="0.12">16 May 20:00</text>
<defs>
<pattern id="chk" x="0" y="0" width="2" height="2" patternUnits="userSpaceOnUse"><rect width="2" height="2" fill="#f0f0f0"/><rect width="1" height="1" fill="#fcfcfc"/><rect x="1" y="1" width="1" height="1" fill="#fcfcfc"/></pattern>
<linearGradient id="gold" x1="0" y1="0" x2="1" y2="1"><stop offset="0" stop-color="#f7e27a"/><stop offset="0.5" stop-color="#e0b21c"/><stop offset="1" stop-color="#a8700c"/></linearGradient>
<linearGradient id="blu" x1="0" y1="0" x2="0" y2="1"><stop offset="0" stop-color="#3fb0ff"/><stop offset="1" stop-color="#0a78e0"/></linearGradient>
<linearGradient id="cloud" x1="0" y1="0" x2="0" y2="1"><stop offset="0" stop-color="#ffffff"/><stop offset="1" stop-color="#c9d6ea"/></linearGradient>
<radialGradient id="badge" cx="0.4" cy="0.3" r="0.8"><stop offset="0" stop-color="#f06a48"/><stop offset="1" stop-color="#d41e0a"/></radialGradient>
<radialGradient id="clk" cx="0.5" cy="0.5" r="0.5"><stop offset="0.6" stop-color="#fafcff"/><stop offset="1" stop-color="#cfe3f7"/></radialGradient>
</defs>
<g id="tb" shape-rendering="geometricPrecision">
<!-- separators -->
<rect x="5" y="1" width="1" height="20" fill="#a0a0a0"/><rect x="6" y="1" width="1" height="20" fill="#ffffff"/>
<rect x="241" y="0" width="1" height="21" fill="#a0a0a0"/><rect x="242" y="0" width="1" height="21" fill="#ffffff"/>
<rect x="336" y="0" width="1" height="21" fill="#a0a0a0"/><rect x="337" y="0" width="1" height="21" fill="#ffffff"/>
<rect x="426" y="0" width="1" height="21" fill="#a0a0a0"/><rect x="427" y="0" width="1" height="21" fill="#ffffff"/>
<rect x="488" y="0" width="1" height="21" fill="#a0a0a0"/><rect x="489" y="0" width="1" height="21" fill="#ffffff"/>
<rect x="609" y="0" width="1" height="23" fill="#a0a0a0"/><rect x="610" y="0" width="1" height="23" fill="#ffffff"/>
<rect x="676" y="0" width="1" height="21" fill="#a0a0a0"/><rect x="677" y="0" width="1" height="21" fill="#ffffff"/>
<rect x="915" y="0" width="1" height="23" fill="#a0a0a0"/><rect x="916" y="0" width="1" height="23" fill="#ffffff"/>
<rect x="1176" y="0" width="1" height="23" fill="#a0a0a0"/><rect x="1177" y="0" width="1" height="23" fill="#ffffff"/>
<!-- grips -->
<g fill="#9a9a9a" shape-rendering="crispEdges">
<rect x="245" y="1" width="3" height="1"/><rect x="245" y="3" width="3" height="1"/><rect x="245" y="5" width="3" height="1"/><rect x="245" y="7" width="3" height="1"/><rect x="245" y="9" width="3" height="1"/><rect x="245" y="11" width="3" height="1"/><rect x="245" y="13" width="3" height="1"/><rect x="245" y="15" width="3" height="1"/><rect x="245" y="17" width="3" height="1"/><rect x="245" y="19" width="3" height="1"/>
<rect x="613" y="1" width="3" height="1"/><rect x="613" y="3" width="3" height="1"/><rect x="613" y="5" width="3" height="1"/><rect x="613" y="7" width="3" height="1"/><rect x="613" y="9" width="3" height="1"/><rect x="613" y="11" width="3" height="1"/><rect x="613" y="13" width="3" height="1"/><rect x="613" y="15" width="3" height="1"/><rect x="613" y="17" width="3" height="1"/><rect x="613" y="19" width="3" height="1"/>
<rect x="919" y="1" width="3" height="1"/><rect x="919" y="3" width="3" height="1"/><rect x="919" y="5" width="3" height="1"/><rect x="919" y="7" width="3" height="1"/><rect x="919" y="9" width="3" height="1"/><rect x="919" y="11" width="3" height="1"/><rect x="919" y="13" width="3" height="1"/><rect x="919" y="15" width="3" height="1"/><rect x="919" y="17" width="3" height="1"/><rect x="919" y="19" width="3" height="1"/>
</g>
<!-- pressed buttons -->
<g shape-rendering="crispEdges">
<rect x="279" y="0" width="1" height="21" fill="#a0a0a0"/><rect x="281" y="0" width="23" height="21" fill="url(#chk)"/>
<rect x="431" y="0" width="1" height="21" fill="#a0a0a0"/><rect x="432" y="0" width="24" height="21" fill="url(#chk)"/>
<rect x="459" y="0" width="1" height="21" fill="#a0a0a0"/><rect x="460" y="0" width="24" height="21" fill="url(#chk)"/>
<rect x="619" y="0" width="1" height="21" fill="#a0a0a0"/><rect x="620" y="0" width="24" height="21" fill="url(#chk)"/>
<rect x="1065" y="0" width="1" height="21" fill="#a0a0a0"/><rect x="1066" y="0" width="24" height="21" fill="url(#chk)"/>
</g>
<!-- new order -->
<path d="M15.5,3.5 h8 l3.5,3.5 v10 h-11.5 z" fill="#fbfbfb" stroke="#6e6e6e" stroke-width="1"/>
<path d="M23.5,3.5 v3.5 h3.5" fill="#dcdcdc" stroke="#6e6e6e" stroke-width="0.8"/>
<rect x="17" y="5" width="3" height="1.2" fill="#888"/>
<rect x="17" y="9" width="6" height="0.9" fill="#999"/><rect x="17" y="11" width="6" height="0.9" fill="#999"/><rect x="17" y="13" width="3" height="0.9" fill="#999"/>
<path d="M23,9.5 h4 v4 h4 v4 h-4 v4 h-4 v-4 h-4 v-4 h4 z" fill="#12d832" stroke="#0a8a1a" stroke-width="1"/>
<text x="34" y="13.6" font-size="12" fill="#000" stroke="#000" stroke-width="0.1" font-family="Liberation Sans,sans-serif">新订单</text>
<!-- gold book -->
<path d="M83,12 L92,18.5 L97.8,11.5 L98,10.5 L92.5,15.8 L83.5,10.8 Z" fill="#c89a40" stroke="#8a5a10" stroke-width="0.8"/>
<path d="M82.5,11 C84,9 85.5,6 87,4.3 L97.5,10.5 L92.3,16.5 Z" fill="url(#gold)" stroke="#9a6410" stroke-width="0.9"/>
<path d="M86,7 L95,11.5" stroke="#fff3a8" stroke-width="1" opacity="0.7"/>
<!-- server cloud -->
<path d="M110.5,3.5 L114,3.5 L123.5,3.5 L123.5,13 L113.5,13 L110.5,10.5 Z" fill="url(#blu)" stroke="#0c70d8" stroke-width="0.8"/>
<path d="M110.5,3.5 L113.5,6 L113.5,13" fill="none" stroke="#80c8ff" stroke-width="0.9"/>
<path d="M113.5,6 L123.5,6" stroke="#0a60c0" stroke-width="0.6"/>
<rect x="116" y="8" width="6" height="1.2" fill="#ffffff"/><rect x="116" y="10" width="3" height="1" fill="#d0ecff"/>
<path d="M112,19 c-2.5,0 -3,-3.5 -0.2,-3.8 c0.3,-2.3 3.5,-3.2 5,-1.5 c1.5,-2.2 5.8,-1.8 6.2,1.4 c3,-0.2 3.6,3.9 0.5,3.9 z" fill="url(#cloud)" stroke="#4868a8" stroke-width="1"/>
<!-- signal -->
<path d="M144.73,3.31 A7.3,7.3 0 0 0 144.73,17.69" fill="none" stroke="#3060d0" stroke-width="1.1" opacity="0.75"/>
<path d="M147.27,17.69 A7.3,7.3 0 0 0 147.27,3.31" fill="none" stroke="#58a858" stroke-width="1.1" opacity="0.6000000000000001"/>
<path d="M145.15,5.67 A4.9,4.9 0 0 0 145.15,15.33" fill="none" stroke="#3060d0" stroke-width="1.1" opacity="0.85"/>
<path d="M146.85,15.33 A4.9,4.9 0 0 0 146.85,5.67" fill="none" stroke="#58a858" stroke-width="1.1" opacity="0.68"/>
<path d="M145.55,7.94 A2.6,2.6 0 0 0 145.55,13.06" fill="none" stroke="#3060d0" stroke-width="1.1" opacity="1"/>
<path d="M146.45,13.06 A2.6,2.6 0 0 0 146.45,7.94" fill="none" stroke="#58a858" stroke-width="1.1" opacity="0.8"/>
<circle cx="146" cy="10.5" r="1.5" fill="#2050c8"/>
<path d="M146,11 L146,18.3 C149,18 151.5,16.5 153,14" fill="none" stroke="#20a020" stroke-width="1.3"/>
<!-- auto trade -->
<path d="M167,11 L180,11 L176,18 L172,17 Z" fill="#f5e05a" stroke="#d0a020" stroke-width="0.8"/>
<ellipse cx="173" cy="8" rx="8" ry="2.6" fill="#6ab8e0" stroke="#2a88b8" stroke-width="0.8"/>
<ellipse cx="173" cy="6" rx="4.2" ry="3.2" fill="#7cc6ec" stroke="#2a88b8" stroke-width="0.8"/>
<circle cx="177.5" cy="15" r="3.8" fill="#e02010" stroke="#b01000" stroke-width="0.6"/>
<rect x="176" y="13.5" width="3" height="3" fill="#fff"/>
<text x="186.5" y="13.6" font-size="12" fill="#000" stroke="#000" stroke-width="0.1" font-family="Liberation Sans,sans-serif">自动交易</text>
<!-- bar chart icon -->
<g fill="#555">
<rect x="259" y="5" width="1.2" height="14"/><rect x="257" y="16" width="14" height="1.2"/>
<path d="M256.8,7 L259.6,4.2 L262.4,7 Z"/><path d="M269,13.8 L271.8,16.6 L269,19.4 Z"/>
</g>
<g fill="#0a8a1a"><rect x="265" y="6" width="1.3" height="8.5"/><rect x="265" y="7" width="3.2" height="1.2"/><rect x="263" y="13" width="2.5" height="1.2"/></g>
<!-- candle icon -->
<g fill="#555">
<rect x="287" y="5" width="1.2" height="14"/><rect x="285" y="16" width="14" height="1.2"/>
<path d="M284.8,7 L287.6,4.2 L290.4,7 Z"/><path d="M297,13.8 L299.8,16.6 L297,19.4 Z"/>
</g>
<rect x="293" y="3" width="1.3" height="12" fill="#0a8a1a"/>
<rect x="291.3" y="5.3" width="4.6" height="7.5" fill="#5ee85e" stroke="#0a8a1a" stroke-width="1"/>
<!-- line chart icon -->
<g fill="#555">
<rect x="315" y="5" width="1.2" height="14"/><rect x="313" y="16" width="14" height="1.2"/>
<path d="M312.8,7 L315.6,4.2 L318.4,7 Z"/><path d="M325,13.8 L327.8,16.6 L325,19.4 Z"/>
</g>
<path d="M314,13.5 C316,11 318,8 320,8 C322,8 324,11.5 325.8,11.8" fill="none" stroke="#2a9a2a" stroke-width="1.2"/>
<!-- zoom in/out -->
<g>
<path d="M354.5,12 L360.2,17.7" stroke="#a07010" stroke-width="3.2"/><path d="M354.5,12 L360.2,17.7" stroke="#e8d050" stroke-width="1.8"/>
<circle cx="351" cy="8.8" r="5.6" fill="#e2f3fb" stroke="#2f7fc0" stroke-width="1.1"/>
<rect x="347.5" y="8.1" width="7" height="1.5" fill="#3a88b0"/><rect x="350.25" y="5.3" width="1.5" height="7" fill="#3a88b0"/>
<path d="M382.5,12 L388.2,17.7" stroke="#a07010" stroke-width="3.2"/><path d="M382.5,12 L388.2,17.7" stroke="#e8d050" stroke-width="1.8"/>
<circle cx="379" cy="8.8" r="5.6" fill="#e2f3fb" stroke="#2f7fc0" stroke-width="1.1"/>
<rect x="375.5" y="8.1" width="7" height="1.5" fill="#3a88b0"/>
</g>
<!-- tile -->
<g>
<rect x="401" y="3" width="8" height="8" rx="1" fill="#2a9a20"/><rect x="409" y="3" width="8" height="8" rx="1" fill="#1a48d0"/>
<rect x="401" y="11" width="8" height="8" rx="1" fill="#1a48d0"/><rect x="409" y="11" width="8" height="8" rx="1" fill="#2a9a20"/>
<g fill="#fff" shape-rendering="crispEdges">
<rect x="402" y="6" width="6" height="4"/><rect x="410" y="6" width="6" height="4"/>
<rect x="402" y="14" width="6" height="4"/><rect x="410" y="14" width="6" height="4"/>
</g>
<g fill="#8ad08a" shape-rendering="crispEdges"><rect x="403" y="7" width="4" height="1"/><rect x="411" y="15" width="4" height="1"/></g>
<g fill="#8aa8e8" shape-rendering="crispEdges"><rect x="411" y="7" width="4" height="1"/><rect x="403" y="15" width="4" height="1"/></g>
<g fill="#d8f0d8" shape-rendering="crispEdges"><rect x="402" y="4" width="1" height="1"/><rect x="410" y="12" width="1" height="1"/></g>
<g fill="#d8e0f8" shape-rendering="crispEdges"><rect x="410" y="4" width="1" height="1"/><rect x="402" y="12" width="1" height="1"/></g>
</g>
<!-- auto scroll -->
<g fill="#555">
<rect x="439" y="5" width="1.2" height="14"/><rect x="437" y="16" width="14" height="1.2"/>
<path d="M436.8,7 L439.6,4.2 L442.4,7 Z"/><path d="M449,13.8 L451.8,16.6 L449,19.4 Z"/>
</g>
<path d="M444.5,7.5 L448,10.5 L444.5,13.5 Z" fill="#6ee06e" stroke="#10a020" stroke-width="1"/>
<!-- chart shift -->
<g fill="#555">
<rect x="467" y="5" width="1.2" height="14"/><rect x="465" y="16" width="14" height="1.2"/>
<path d="M464.8,7 L467.6,4.2 L470.4,7 Z"/><path d="M477,13.8 L479.8,16.6 L477,19.4 Z"/>
</g>
<rect x="473" y="5" width="1.2" height="10" fill="#1a70b0"/>
<path d="M474.5,10.4 L477,8.2 L476.5,9.8 L479,9.8 L479,11 L476.5,11 L477,12.6 Z" fill="#e85010" stroke="#b03000" stroke-width="0.5"/>
<!-- add indicator -->
<path d="M498.5,3.5 h7 l3,3 v9.5 h-10 z" fill="#fbfbfb" stroke="#707070" stroke-width="1"/>
<path d="M501.5,15.5 c0.5,-3 0.5,-6.5 1.5,-8 c0.5,-0.8 1.5,-0.8 2.2,-0.2 M500.5,10.5 h4" fill="none" stroke="#404020" stroke-width="0.9"/>
<path d="M506,9.5 h4 v4 h4 v4 h-4 v4 h-4 v-4 h-4 v-4 h4 z" fill="#20e040" stroke="#0a8a1a" stroke-width="1"/>
<path d="M520,10 h5.2 l-2.6,3 z" fill="#000"/>
<!-- clock -->
<circle cx="544" cy="11" r="7" fill="url(#clk)" stroke="#1060c0" stroke-width="1.8"/>
<path d="M543.5,6.5 v4.8 h3" fill="none" stroke="#202020" stroke-width="1.1"/>
<path d="M559,10 h5.2 l-2.6,3 z" fill="#000"/>
<!-- template -->
<rect x="575.5" y="4.5" width="15" height="13" fill="#fff" stroke="#3a70c0" stroke-width="1"/>
<rect x="576" y="5" width="14" height="1.5" fill="#8ab8e8"/><rect x="576" y="11" width="14" height="1" fill="#3a70c0"/>
<path d="M577,9.5 L580,9 L582,8 L584,9 L586,8.5 L589,8" fill="none" stroke="#a02010" stroke-width="1"/>
<path d="M577,15 L579.5,14.5 L582,15 L585,13 L589,15.5" fill="none" stroke="#20a030" stroke-width="1"/>
<path d="M598,10 h5.2 l-2.6,3 z" fill="#000"/>
<!-- cursor -->
<path d="M627,4 L627,15 L629.5,12.8 L632,17.5 L633.8,16.6 L631.4,12 L634.5,11.5 Z" fill="#505050"/>
<!-- crosshair -->
<g fill="#505050" shape-rendering="crispEdges"><rect x="659" y="4" width="1" height="6"/><rect x="659" y="13" width="1" height="6"/><rect x="652" y="11" width="6" height="1"/><rect x="661" y="11" width="6" height="1"/><rect x="659" y="11" width="1" height="1"/></g>
<!-- vertical / horizontal / trend -->
<rect x="693" y="5" width="1" height="13" fill="#505050" shape-rendering="crispEdges"/>
<rect x="716" y="11" width="13" height="1" fill="#505050" shape-rendering="crispEdges"/>
<path d="M744,17.5 L756,6" stroke="#505050" stroke-width="1"/>
<!-- channel E -->
<g stroke="#505050" stroke-width="1" fill="none">
<path d="M770,12.5 L778,5"/><path d="M772,17 L784,6.5"/><path d="M775,18 L783,10.5"/>
<path d="M772,11 l1,4 M775,9 l1,4 M778,7 l1,4 M781,5 l0.5,3"/>
</g>
<text x="780" y="20" font-size="7" font-weight="bold" fill="#505050" font-family="Liberation Sans,sans-serif">E</text>
<!-- fib F -->
<g fill="#505050" shape-rendering="crispEdges">
<path d="M799,4h1v1h-1zM801,4h1v1h-1zM803,4h1v1h-1zM805,4h1v1h-1zM807,4h1v1h-1zM809,4h1v1h-1zM811,4h1v1h-1z"/>
<path d="M799,7h1v1h-1zM801,7h1v1h-1zM803,7h1v1h-1zM805,7h1v1h-1zM807,7h1v1h-1zM809,7h1v1h-1zM811,7h1v1h-1z"/>
<path d="M799,11h1v1h-1zM801,11h1v1h-1zM803,11h1v1h-1zM805,11h1v1h-1zM807,11h1v1h-1zM809,11h1v1h-1zM811,11h1v1h-1z"/>
<path d="M799,15h1v1h-1zM801,15h1v1h-1zM803,15h1v1h-1zM805,15h1v1h-1zM807,15h1v1h-1z"/>
</g>
<text x="808.5" y="20" font-size="7" font-weight="bold" fill="#505050" font-family="Liberation Sans,sans-serif">F</text>
<!-- A -->
<text x="830" y="16" font-size="11" fill="#505050" font-family="Liberation Sans,sans-serif">A</text>
<!-- T label -->
<rect x="856.5" y="5.5" width="11" height="12" fill="none" stroke="#505050" stroke-width="1" stroke-dasharray="1,1" shape-rendering="crispEdges"/>
<text x="858" y="15" font-size="10" font-weight="bold" fill="#505050" font-family="Liberation Sans,sans-serif">T</text>
<!-- arrows -->
<path d="M882.5,8 L886.5,4.5 L890.5,8 L886.5,9.5 Z" fill="#505050"/><path d="M889.5,14.5 L893.5,13 L897.5,14.5 L893.5,18 Z" fill="#505050"/>
<path d="M884.5,11.5 L887,14 L892,9" fill="none" stroke="#505050" stroke-width="1.2"/>
<path d="M904,10 h5.2 l-2.6,3 z" fill="#000"/>
<!-- timeframes -->
<g font-size="9.5" fill="#404040" font-family="Liberation Sans,sans-serif">
<text x="930.5" y="15">M1</text><text x="958.5" y="15">M5</text><text x="984.5" y="15">M15</text><text x="1012.5" y="15">M30</text><text x="1043.5" y="15">H1</text>
<text x="1070.5" y="15">H4</text><text x="1099.5" y="15">D1</text><text x="1126.5" y="15">W1</text><text x="1153.5" y="15">MN</text>
</g>
<!-- search -->
<circle cx="1646.5" cy="8.5" r="4" fill="none" stroke="#2a5bd7" stroke-width="1.3"/>
<path d="M1643.8,11.2 L1639.8,15.2" stroke="#2a5bd7" stroke-width="2.2" stroke-linecap="round"/>
<!-- chat + badge -->
<ellipse cx="1669" cy="13" rx="6" ry="5" fill="#f4f4f8" stroke="#9a9a9a" stroke-width="0.9"/>
<path d="M1666,17.5 L1665.5,19.5 L1669,17.8" fill="#e0e0ea" stroke="#8a8a8a" stroke-width="0.8"/>
<circle cx="1677.4" cy="8.4" r="8.3" fill="url(#badge)"/>
<text x="1674" y="13" font-size="11" font-weight="bold" fill="#fff" font-family="Liberation Serif,serif">1</text>
</g>

</svg></body></html>
